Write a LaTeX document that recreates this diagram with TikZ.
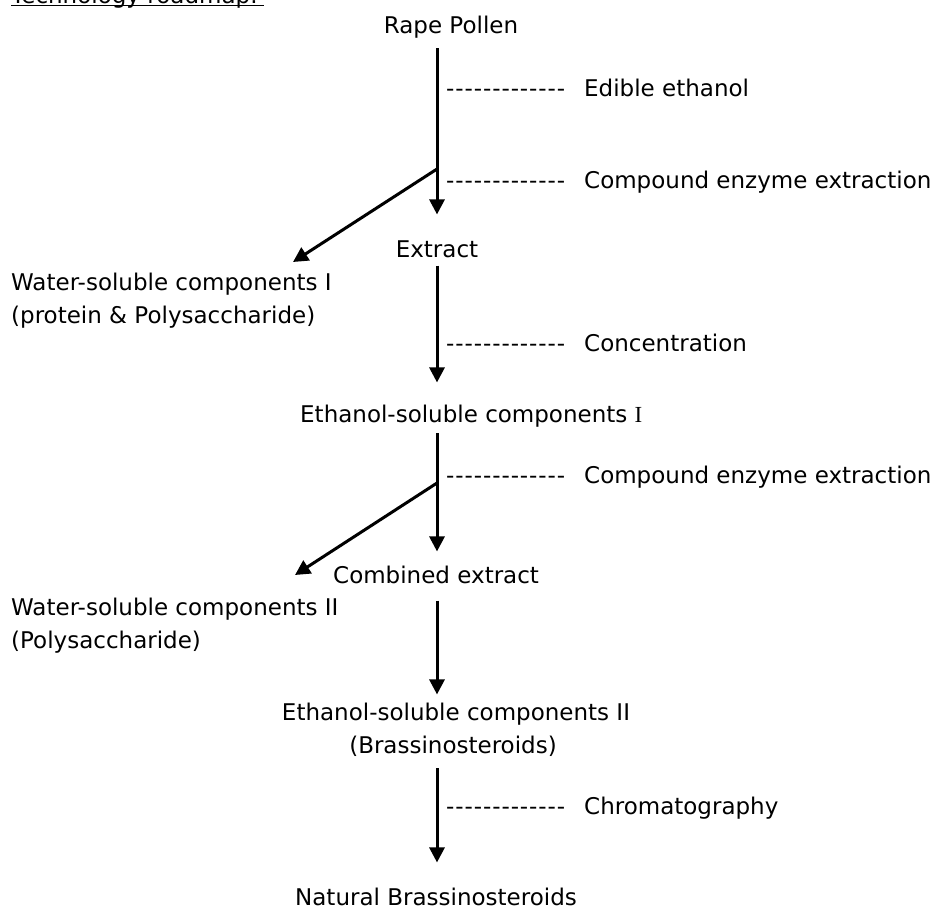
\documentclass[tikz,border=0pt]{standalone}
\usepackage{fontspec}
\setmainfont{DejaVu Sans}[Ligatures=TeXOff]
\newfontfamily\serifI{Liberation Serif}
\usetikzlibrary{arrows.meta,calc}
\newcommand\leaderdashes{{\addfontfeature{LetterSpace=4}-------------}}
\begin{document}
\begin{tikzpicture}[x=1pt,y=-1pt,
  txt/.style={inner sep=0pt, font=\fontsize{23}{33}\selectfont},
  arr/.style={line width=3pt, -{Triangle[length=15pt,width=15pt]}},
  lbl/.style={txt, anchor=base west},
]
\useasboundingbox (0,0) rectangle (941,914);
\clip (0,0) rectangle (941,914);
\fill[white] (0,0) rectangle (941,914);

% title (cut off at the top, as in the source)
\node[txt, anchor=base west] (title) at (11,3) {Technology roadmap:};
\draw[line width=1.8pt] ($(title.base west)+(0,2.5)$) -- ($(title.base east)+(6,2.5)$);

% main chain
\coordinate (ax) at (437,0);
\node[txt, anchor=base] (rape) at (451,33) {Rape Pollen};
\node[txt, anchor=base] (extract) at (437,257) {Extract};
\node[txt, anchor=base west] (eth1) at (300,422) {Ethanol-soluble components {\serifI I}};
\node[txt, anchor=base west] (comb) at (333,583) {Combined extract};
\node[txt, anchor=base] (eth2a) at (456,720) {Ethanol-soluble components II};
\node[txt, anchor=base] (eth2b) at (453,753) {(Brassinosteroids)};
\node[txt, anchor=base] (nat) at (436,905) {Natural Brassinosteroids};

% side products
\node[txt, anchor=base west] (ws1a) at (11,290) {Water-soluble components I};
\node[txt, anchor=base west] (ws1b) at (11,323) {(protein \& Polysaccharide)};
\node[txt, anchor=base west] (ws2a) at (11,615) {Water-soluble components II};
\node[txt, anchor=base west] (ws2b) at (11,648) {(Polysaccharide)};

% process labels
\node[lbl] (d1) at (446,96) {\leaderdashes};
\node[lbl] (l1) at (584,96) {Edible ethanol};
\node[lbl] (d2) at (446,188) {\leaderdashes};
\node[lbl] (l2) at (584,188) {Compound enzyme extraction};
\node[lbl] (d3) at (446,351) {\leaderdashes};
\node[lbl] (l3) at (584,351) {Concentration};
\node[lbl] (d4) at (446,483) {\leaderdashes};
\node[lbl] (l4) at (584,483) {Compound enzyme extraction};
\node[lbl] (d5) at (446,814) {\leaderdashes};
\node[lbl] (l5) at (584,814) {Chromatography};

% arrows
\draw[arr] ($(rape.south -| ax)+(0,10.3)$) -- ($(extract.north -| ax)+(0,-25.6)$);
\draw[arr] ($(extract.south -| ax)+(0,8)$) -- ($(eth1.north -| ax)+(0,-21.9)$);
\draw[arr] ($(eth1.south -| ax)+(0,6.3)$) -- ($(comb.north -| ax)+(0,-13.9)$);
\draw[arr] ($(comb.south -| ax)+(0,17)$) -- ($(eth2a.north -| ax)+(0,-7.9)$);
\draw[arr] ($(eth2b.south -| ax)+(0,12)$) -- ($(nat.north -| ax)+(0,-24.9)$);

\coordinate (b1) at (437,169);
\coordinate (t1) at (293,262);
\coordinate (b2) at (437,483);
\coordinate (t2) at (295,575);
\draw[arr] (b1) -- (t1);
\draw[arr] (b2) -- (t2);
\end{tikzpicture}
\end{document}
